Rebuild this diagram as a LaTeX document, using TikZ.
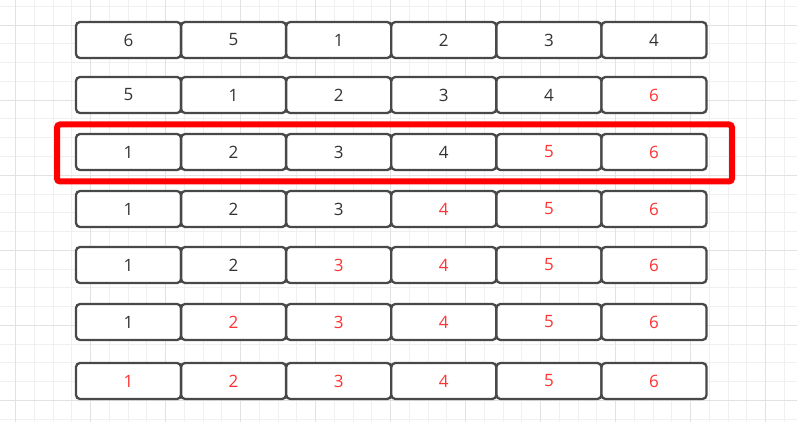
\documentclass[tikz,border=0pt]{standalone}
\usepackage{fontspec}
\setmainfont{Open Sans}
\definecolor{gridminor}{HTML}{F0F0F0}
\definecolor{gridmajor}{HTML}{E2E2E2}
\definecolor{boxline}{HTML}{484848}
\definecolor{txt}{HTML}{333333}
\definecolor{redtxt}{HTML}{FF3333}
\definecolor{frame}{HTML}{FF0000}
\begin{document}
\begin{tikzpicture}[x=1pt,y=-1pt,
  cell/.style={draw=boxline,line width=2.3pt,rounded corners=4pt,fill=white,
    minimum width=105pt,minimum height=36pt,inner sep=0pt,outer sep=0pt,anchor=north west,
    font=\fontsize{17}{20}\selectfont,text=txt},
  done/.style={cell,text=redtxt}]
\useasboundingbox (0,0) rectangle (797,422);
\fill[white] (0,0) rectangle (797,422);
% grid
\foreach \k in {0,...,42} {
  \draw[gridminor,line width=1pt] ({15.7+18.75*\k},0) -- ({15.7+18.75*\k},422);
}
\foreach \k in {0,...,22} {
  \draw[gridminor,line width=1pt] (0,{6.5+18.75*\k}) -- (797,{6.5+18.75*\k});
}
\foreach \k in {-1,...,9} {
  \draw[gridmajor,line width=1pt] ({90.7+75*\k},0) -- ({90.7+75*\k},422);
}
\foreach \k in {0,...,5} {
  \draw[gridmajor,line width=1pt] (0,{25.3+75*\k}) -- (797,{25.3+75*\k});
}
% rows
\newcommand{\cellrow}[4]{%
  \foreach \t [count=\c from 0] in {#3} {
    \pgfmathtruncatemacro{\isred}{\c>=#2 ? 1 : 0}
    \ifnum\isred=1
      \node[done] (r#1c\c) at ({76+105.1*\c},#4) {\t};
    \else
      \node[cell] (r#1c\c) at ({76+105.1*\c},#4) {\t};
    \fi
  }%
}
\cellrow{1}{6}{6,5,1,2,3,4}{22}
\cellrow{2}{5}{5,1,2,3,4,6}{77}
\cellrow{3}{4}{1,2,3,4,5,6}{134}
\cellrow{4}{3}{1,2,3,4,5,6}{191}
\cellrow{5}{2}{1,2,3,4,5,6}{247}
\cellrow{6}{1}{1,2,3,4,5,6}{304}
\cellrow{7}{0}{1,2,3,4,5,6}{363}
% highlight frame
\node[draw=frame,line width=6pt,rounded corners=3pt,inner sep=0pt,outer sep=0pt,
  minimum width=675pt,minimum height=57pt,anchor=north west] (hl) at (57,124.5) {};
\end{tikzpicture}
\end{document}
